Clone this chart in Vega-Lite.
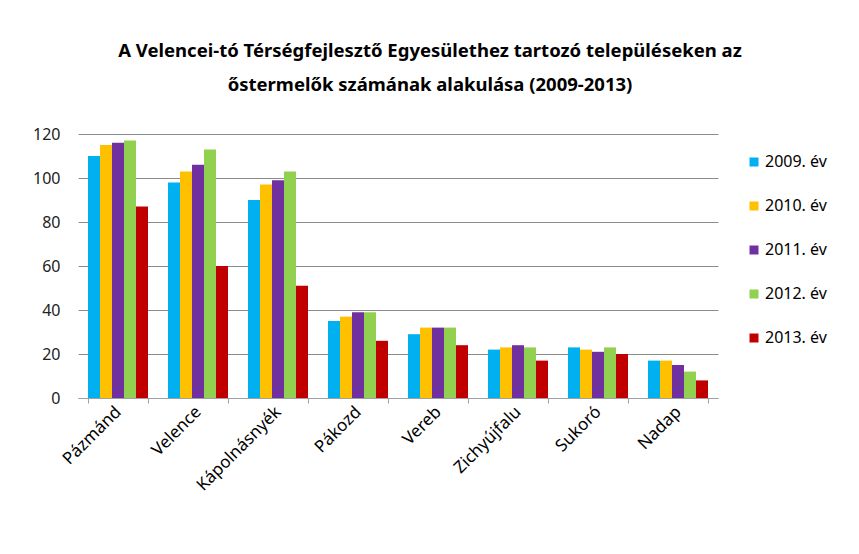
{
  "$schema": "https://vega.github.io/schema/vega-lite/v6.json",
  "autosize": "none",
  "width": 640,
  "height": 264,
  "padding": {"left": 78, "top": 134, "right": 141, "bottom": 156},
  "background": "white",
  "title": {
    "text": ["A Velencei-tó Térségfejlesztő Egyesülethez tartozó településeken az", "őstermelők számának alakulása (2009-2013)"],
    "font": "Noto Sans",
    "fontSize": 18.5,
    "fontWeight": "bold",
    "color": "#000000",
    "anchor": "middle",
    "frame": "group",
    "dx": 32,
    "offset": 32,
    "lineHeight": 34
  },
  "config": {
    "view": {"stroke": null},
    "font": "Noto Sans"
  },
  "data": {
    "values": [
      {"telepules": "Pázmánd", "ev": "2009. év", "db": 110},
      {"telepules": "Pázmánd", "ev": "2010. év", "db": 115},
      {"telepules": "Pázmánd", "ev": "2011. év", "db": 116},
      {"telepules": "Pázmánd", "ev": "2012. év", "db": 117},
      {"telepules": "Pázmánd", "ev": "2013. év", "db": 87},
      {"telepules": "Velence", "ev": "2009. év", "db": 98},
      {"telepules": "Velence", "ev": "2010. év", "db": 103},
      {"telepules": "Velence", "ev": "2011. év", "db": 106},
      {"telepules": "Velence", "ev": "2012. év", "db": 113},
      {"telepules": "Velence", "ev": "2013. év", "db": 60},
      {"telepules": "Kápolnásnyék", "ev": "2009. év", "db": 90},
      {"telepules": "Kápolnásnyék", "ev": "2010. év", "db": 97},
      {"telepules": "Kápolnásnyék", "ev": "2011. év", "db": 99},
      {"telepules": "Kápolnásnyék", "ev": "2012. év", "db": 103},
      {"telepules": "Kápolnásnyék", "ev": "2013. év", "db": 51},
      {"telepules": "Pákozd", "ev": "2009. év", "db": 35},
      {"telepules": "Pákozd", "ev": "2010. év", "db": 37},
      {"telepules": "Pákozd", "ev": "2011. év", "db": 39},
      {"telepules": "Pákozd", "ev": "2012. év", "db": 39},
      {"telepules": "Pákozd", "ev": "2013. év", "db": 26},
      {"telepules": "Vereb", "ev": "2009. év", "db": 29},
      {"telepules": "Vereb", "ev": "2010. év", "db": 32},
      {"telepules": "Vereb", "ev": "2011. év", "db": 32},
      {"telepules": "Vereb", "ev": "2012. év", "db": 32},
      {"telepules": "Vereb", "ev": "2013. év", "db": 24},
      {"telepules": "Zichyújfalu", "ev": "2009. év", "db": 22},
      {"telepules": "Zichyújfalu", "ev": "2010. év", "db": 23},
      {"telepules": "Zichyújfalu", "ev": "2011. év", "db": 24},
      {"telepules": "Zichyújfalu", "ev": "2012. év", "db": 23},
      {"telepules": "Zichyújfalu", "ev": "2013. év", "db": 17},
      {"telepules": "Sukoró", "ev": "2009. év", "db": 23},
      {"telepules": "Sukoró", "ev": "2010. év", "db": 22},
      {"telepules": "Sukoró", "ev": "2011. év", "db": 21},
      {"telepules": "Sukoró", "ev": "2012. év", "db": 23},
      {"telepules": "Sukoró", "ev": "2013. év", "db": 20},
      {"telepules": "Nadap", "ev": "2009. év", "db": 17},
      {"telepules": "Nadap", "ev": "2010. év", "db": 17},
      {"telepules": "Nadap", "ev": "2011. év", "db": 15},
      {"telepules": "Nadap", "ev": "2012. év", "db": 12},
      {"telepules": "Nadap", "ev": "2013. év", "db": 8}
    ]
  },
  "mark": {"type": "bar"},
  "encoding": {
    "x": {
      "field": "telepules",
      "type": "nominal",
      "sort": null,
      "scale": {"paddingInner": 0.25, "paddingOuter": 0.125},
      "axis": {
        "title": null,
        "labelAngle": -45,
        "labelAlign": "right",
        "labelBaseline": "middle",
        "labelFontSize": 17,
        "labelColor": "#000000",
        "labelPadding": 6,
        "tickBand": "extent",
        "tickColor": "#a0a0a0",
        "tickSize": 5,
        "domainColor": "#a0a0a0"
      }
    },
    "xOffset": {
      "field": "ev",
      "type": "nominal",
      "scale": {"paddingInner": 0, "paddingOuter": 0}
    },
    "y": {
      "field": "db",
      "type": "quantitative",
      "scale": {"domain": [0, 120]},
      "axis": {
        "title": null,
        "values": [0, 20, 40, 60, 80, 100, 120],
        "labelFontSize": 16,
        "labelColor": "#222222",
        "labelPadding": 18,
        "ticks": false,
        "domain": false,
        "gridColor": "#8c8c8c",
        "gridWidth": 1
      }
    },
    "color": {
      "field": "ev",
      "type": "nominal",
      "scale": {
        "domain": ["2009. év", "2010. év", "2011. év", "2012. év", "2013. év"],
        "range": ["#00B0F0", "#FFC000", "#7030A0", "#92D050", "#C00000"]
      },
      "legend": {
        "title": null,
        "orient": "none",
        "legendX": 668,
        "legendY": 20,
        "symbolType": "square",
        "symbolSize": 81,
        "symbolStrokeWidth": 0,
        "labelFontSize": 16,
        "labelColor": "#000000",
        "labelOffset": 3,
        "rowPadding": 28
      }
    }
  }
}
